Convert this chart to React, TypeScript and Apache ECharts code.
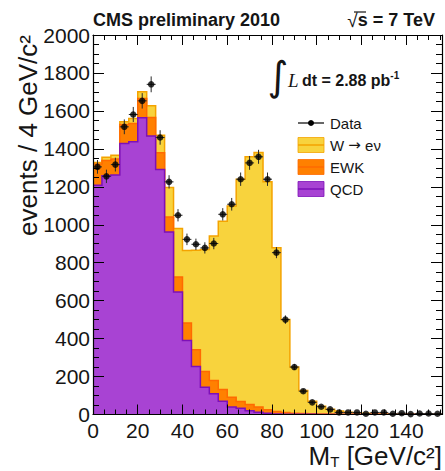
import React, { useEffect, useRef } from 'react';
import * as echarts from 'echarts';

// Transverse-mass histogram, 4 GeV/c^2 bins from 0 to 156
const BIN_WIDTH = 4;
const X_MAX = 156;

// Stacked expectations per bin (events / 4 GeV/c^2)
const qcd = [1208, 1258, 1262, 1428, 1437, 1564, 1468, 1291, 962, 645, 390, 253, 144, 109, 70, 39, 33, 20, 12, 7, 2, 1, 1, 1, 1, 0, 0, 0, 0, 0, 0, 0, 0, 0, 0, 0, 0, 0, 0];
const ewk = [112, 80, 84, 100, 97, 102, 97, 88, 79, 79, 92, 88, 83, 70, 62, 52, 36, 33, 27, 18, 14, 9, 6, 4, 3, 2, 2, 1, 1, 1, 1, 1, 0, 0, 0, 0, 0, 0, 0];
const wenu = [8, 18, 20, 15, 26, 35, 62, 93, 155, 256, 382, 524, 642, 762, 886, 1008, 1171, 1305, 1342, 1202, 863, 491, 243, 122, 66, 42, 26, 17, 11, 7, 5, 4, 4, 3, 3, 2, 2, 2, 1];

// Observed counts per bin
const dataCounts = [1305, 1255, 1317, 1516, 1581, 1653, 1740, 1460, 1226, 1050, 923, 897, 878, 901, 1055, 1108, 1240, 1326, 1358, 1240, 853, 500, 250, 123, 64, 41, 27, 11, 11, 11, 4, 11, 11, 4, 7, 2, 5, 5, 4];

// Legend entries, rich-text encoded so the arrow can use a font with a full-size glyph
const legendLabels = ['Data', 'W {a|\u2192} e\u03bd', 'EWK', 'QCD'];

const W_FILL = '#f8d33d';
const W_LINE = '#f4a300';
const EWK_FILL = '#ff8000';
const EWK_LINE = '#ff6a00';
const QCD_FILL = '#a843d3';
const QCD_LINE = '#7d10b8';

const FONT = '"Liberation Sans", Arial, Helvetica, sans-serif';
const TEXT = '#151515';

const binLow = qcd.map((_, i) => i * BIN_WIDTH);
const stackEwk = qcd.map((q, i) => q + ewk[i]);
const stackAll = stackEwk.map((s, i) => s + wenu[i]);

function stepPoints(api: any, tops: number[]) {
  const pts: number[][] = [api.coord([binLow[0], 0])];
  tops.forEach((t, i) => {
    pts.push(api.coord([binLow[i], t]), api.coord([binLow[i] + BIN_WIDTH, t]));
  });
  pts.push(api.coord([binLow[tops.length - 1] + BIN_WIDTH, 0]));
  return pts;
}

export default function App() {
  const ref = useRef<HTMLDivElement>(null);

  useEffect(() => {
    if (!ref.current) return;
    const chart = echarts.init(ref.current, undefined, { renderer: 'svg' });

    const tickLabel = { fontFamily: FONT, fontSize: 21, color: TEXT };
    const frameLine = { show: true, onZero: false, lineStyle: { color: '#000', width: 1.2 } };

    const xCommon = {
      type: 'value' as const,
      min: 0,
      max: X_MAX,
      interval: 20,
      z: 10,
      axisLine: frameLine,
      axisTick: { show: true, inside: true, length: 10, lineStyle: { color: '#000', width: 1 } },
      minorTick: { show: true, splitNumber: 4, length: 5, lineStyle: { color: '#000', width: 1 } },
      splitLine: { show: false },
      minorSplitLine: { show: false },
    };
    const yCommon = {
      type: 'value' as const,
      min: 0,
      max: 2000,
      interval: 200,
      z: 10,
      axisLine: frameLine,
      axisTick: { show: true, inside: true, length: 11, lineStyle: { color: '#000', width: 1 } },
      minorTick: { show: true, splitNumber: 4, length: 6, lineStyle: { color: '#000', width: 1 } },
      splitLine: { show: false },
      minorSplitLine: { show: false },
    };

    const legendTop = 123;
    const legendGap = 22;
    const boxX = 298;
    const boxW = 26;
    const boxH = 15;
    const legendBoxes = [
      [W_FILL, W_LINE],
      [EWK_FILL, EWK_LINE],
      [QCD_FILL, QCD_LINE],
    ];

    const graphic: any[] = [
      {
        type: 'text',
        x: 93,
        y: 20,
        style: { text: 'CMS preliminary 2010', font: `bold 18px ${FONT}`, fill: TEXT, align: 'left', verticalAlign: 'middle' },
      },
      {
        type: 'text',
        x: 435,
        y: 20,
        style: {
          text: '{r|\u221a}{b|s = 7 TeV}',
          align: 'right',
          verticalAlign: 'middle',
          fill: TEXT,
          rich: {
            r: { fontFamily: FONT, fontSize: 19, fontWeight: 'normal', fill: TEXT },
            b: { fontFamily: FONT, fontSize: 18, fontWeight: 'bold', fill: TEXT },
          },
        },
      },
      { type: 'line', shape: { x1: 354, y1: 12, x2: 366, y2: 12 }, style: { stroke: TEXT, lineWidth: 1.2 } },
      {
        type: 'text',
        x: 278,
        y: 76,
        style: { text: '\u222b', font: `normal 40px "DejaVu Sans", sans-serif`, fill: TEXT, align: 'center', verticalAlign: 'middle' },
      },
      {
        type: 'text',
        x: 288,
        y: 80,
        style: {
          text: '{l|L} {b|dt = 2.88 pb}{s|-1}',
          align: 'left',
          verticalAlign: 'middle',
          fill: TEXT,
          rich: {
            l: { fontFamily: '"Liberation Serif", serif', fontStyle: 'italic', fontSize: 19, fill: TEXT },
            b: { fontFamily: FONT, fontSize: 16, fontWeight: 'bold', fill: TEXT },
            s: { fontFamily: FONT, fontSize: 10, fontWeight: 'bold', fill: TEXT, verticalAlign: 'top' },
          },
        },
      },
      // legend: data marker
      { type: 'line', shape: { x1: boxX, y1: legendTop, x2: boxX + boxW, y2: legendTop }, style: { stroke: '#000', lineWidth: 1.2 } },
      { type: 'circle', shape: { cx: boxX + 13, cy: legendTop, r: 3 }, style: { fill: '#000' } },
      ...legendBoxes.flatMap(([fill, line], i) => {
        const cy = legendTop + legendGap * (i + 1);
        return [
          { type: 'rect', shape: { x: boxX, y: cy - boxH / 2, width: boxW, height: boxH }, style: { fill, stroke: line, lineWidth: 0.8 } },
          { type: 'line', shape: { x1: boxX, y1: cy, x2: boxX + boxW, y2: cy }, style: { stroke: line, lineWidth: 1.5 } },
        ];
      }),
      ...legendLabels.map((label, i) => ({
        type: 'text',
        x: 330,
        y: legendTop + legendGap * i,
        style: {
          text: label,
          fontFamily: FONT,
          fontSize: 15,
          fill: TEXT,
          align: 'left',
          verticalAlign: 'middle',
          rich: { a: { fontFamily: '"DejaVu Sans", sans-serif', fontSize: 15, fill: TEXT } },
        },
      })),
      // axis titles
      {
        type: 'text',
        x: 28,
        y: 35,
        rotation: Math.PI / 2,
        style: { text: 'events / 4 GeV/c\u00b2', font: `26px ${FONT}`, fill: TEXT, align: 'right', verticalAlign: 'middle' },
      },
      {
        type: 'text',
        x: 442,
        y: 456,
        style: {
          text: '{m|M}{t|T}{m| [GeV/c\u00b2]}',
          align: 'right',
          verticalAlign: 'middle',
          fill: TEXT,
          rich: {
            m: { fontFamily: FONT, fontSize: 26, fill: TEXT },
            t: { fontFamily: FONT, fontSize: 15, fill: TEXT, verticalAlign: 'bottom' },
          },
        },
      },
    ];

    chart.setOption({
      animation: false,
      backgroundColor: '#ffffff',
      grid: { left: 93, top: 35, right: 2, bottom: 56.5, containLabel: false },
      xAxis: [
        {
          ...xCommon,
          position: 'bottom',
          axisLabel: { ...tickLabel, margin: 5, formatter: (v: number) => (v % 20 === 0 ? String(v) : '') },
        },
        { ...xCommon, position: 'top', axisLabel: { show: false } },
      ],
      yAxis: [
        { ...yCommon, position: 'left', axisLabel: { ...tickLabel, margin: 3, formatter: (v: number) => String(v) } },
        { ...yCommon, position: 'right', axisLabel: { show: false } },
      ],
      series: [
        {
          type: 'custom',
          name: 'stack',
          coordinateSystem: 'cartesian2d',
          xAxisIndex: 0,
          yAxisIndex: 0,
          clip: true,
          silent: true,
          z: 2,
          data: [[0, 0]],
          renderItem: (_params: any, api: any) => {
            const layers: [number[], string, string][] = [
              [stackAll, W_FILL, W_LINE],
              [stackEwk, EWK_FILL, EWK_LINE],
              [qcd, QCD_FILL, QCD_LINE],
            ];
            return {
              type: 'group',
              children: layers.flatMap(([tops, fill, line]) => {
                const pts = stepPoints(api, tops);
                return [
                  { type: 'polygon', shape: { points: pts }, style: { fill, stroke: 'none' } },
                  { type: 'polyline', shape: { points: pts }, style: { fill: 'none', stroke: line, lineWidth: 1.5 } },
                ];
              }),
            };
          },
        },
        {
          type: 'custom',
          name: 'errors',
          coordinateSystem: 'cartesian2d',
          xAxisIndex: 0,
          yAxisIndex: 0,
          silent: true,
          z: 4,
          data: dataCounts.map((n, i) => [binLow[i] + BIN_WIDTH / 2, n, Math.sqrt(n)]),
          renderItem: (_params: any, api: any) => {
            const x = api.value(0);
            const y = api.value(1);
            const e = api.value(2);
            const c = api.coord([x, y]);
            const hi = api.coord([x, y + e]);
            const lo = api.coord([x, y - e]);
            const l = api.coord([x - BIN_WIDTH / 2, y]);
            const r = api.coord([x + BIN_WIDTH / 2, y]);
            const st = { stroke: '#2a2a2a', lineWidth: 1 };
            return {
              type: 'group',
              children: [
                { type: 'line', shape: { x1: c[0], y1: hi[1], x2: c[0], y2: lo[1] }, style: st },
                { type: 'line', shape: { x1: l[0], y1: c[1], x2: r[0], y2: c[1] }, style: st },
              ],
            };
          },
        },
        {
          type: 'scatter',
          name: 'Data',
          xAxisIndex: 0,
          yAxisIndex: 0,
          z: 5,
          symbol: 'circle',
          symbolSize: 6.5,
          itemStyle: { color: '#000' },
          data: dataCounts.map((n, i) => [binLow[i] + BIN_WIDTH / 2, n]),
        },
      ],
      graphic,
    });

    return () => chart.dispose();
  }, []);

  return (
    <div
      ref={ref}
      style={{ position: 'fixed', left: 0, top: 0, width: 445, height: 471, background: '#fff' }}
    />
  );
}
